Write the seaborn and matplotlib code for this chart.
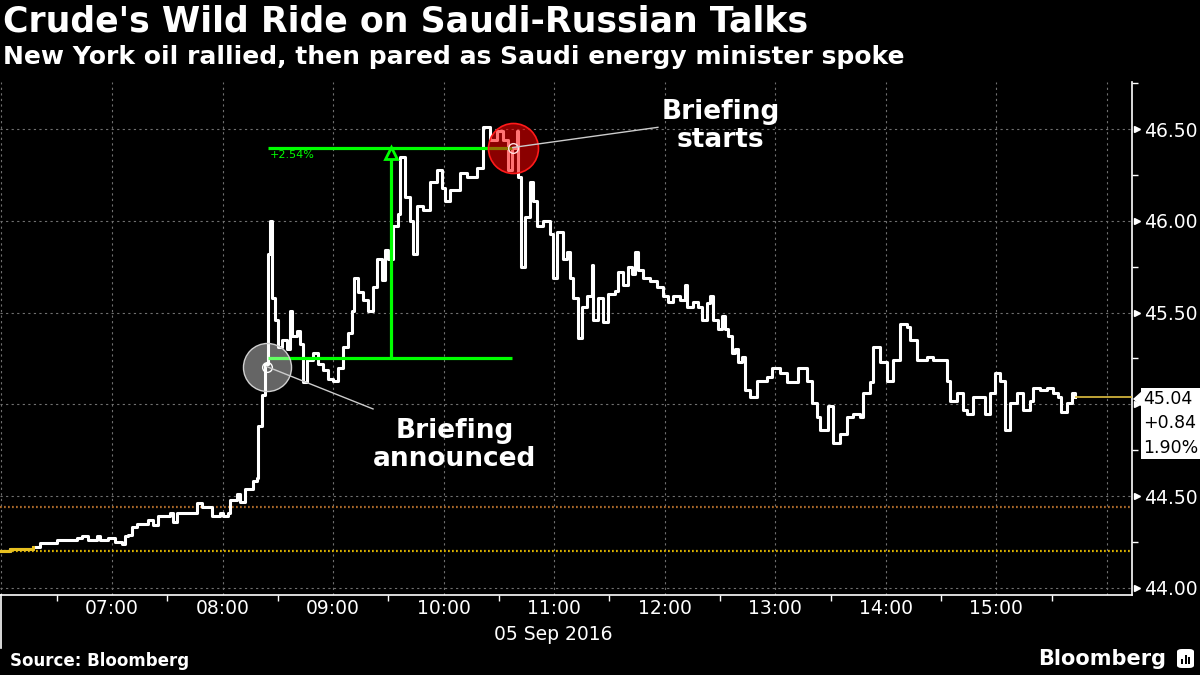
import numpy as np
import pandas as pd
import seaborn as sns
import matplotlib
matplotlib.use("Agg")
import matplotlib.pyplot as plt
import matplotlib.dates as mdates
from matplotlib.patches import Polygon, FancyBboxPatch, Rectangle
from matplotlib.lines import Line2D

# WTI front-month, 05 Sep 2016, minutes after 06:00 and price
day = pd.Timestamp("2016-09-05 06:00")
mins = [0.0, 4.7, 13.9, 17.1, 20.9, 26.4, 30.2, 35.6, 41.0, 43.7,
        47.0, 51.9, 53.5, 57.9, 61.7, 65.5, 67.1, 68.7, 70.9, 73.6,
        79.6, 82.3, 85.0, 91.5, 93.1, 95.3, 106.2, 108.9, 114.3, 118.6,
        120.3, 123.0, 124.1, 127.9, 129.5, 132.2, 136.5, 138.7, 139.3, 141.4,
        143.1, 144.7, 145.8, 146.9, 148.5, 150.1, 152.3, 155.0, 156.6, 157.7,
        160.4, 162.0, 163.7, 165.8, 169.1, 171.8, 174.5, 177.2, 180.0, 182.7,
        185.4, 188.1, 190.3, 191.4, 193.5, 196.2, 199.0, 201.7, 203.8, 206.6,
        208.2, 209.8, 212.5, 215.2, 216.3, 219.0, 221.7, 223.4, 225.5, 228.8,
        232.6, 236.4, 239.1, 240.7, 243.5, 248.9, 252.7, 258.1, 261.4, 265.2,
        269.0, 272.2, 275.0, 277.1, 279.8, 280.4, 282.0, 284.2, 286.9, 288.6,
        290.7, 294.0, 297.7, 299.4, 301.5, 304.8, 307.0, 308.6, 310.2, 312.9,
        315.1, 317.8, 320.5, 321.1, 323.8, 326.5, 329.2, 333.0, 334.6, 337.4,
        340.1, 342.2, 343.9, 345.5, 348.2, 352.0, 355.8, 359.0, 361.8, 364.5,
        368.3, 371.0, 372.1, 375.3, 378.1, 380.2, 382.9, 384.6, 386.2, 388.9,
        391.1, 392.7, 394.4, 396.6, 398.2, 399.8, 402.0, 403.6, 406.3, 410.1,
        415.5, 418.2, 422.6, 426.4, 432.3, 437.3, 440.0, 442.6, 444.3, 448.6,
        451.3, 455.1, 458.9, 462.2, 466.0, 467.6, 471.4, 473.0, 476.8, 480.6,
        483.9, 487.7, 491.5, 493.1, 496.9, 502.3, 505.6, 509.4, 513.2, 514.8,
        518.6, 521.9, 524.1, 527.3, 532.8, 533.8, 536.5, 539.2, 541.9, 544.7,
        547.4, 551.2, 554.4, 558.2, 559.9, 563.6, 567.4, 570.7, 573.4, 575.0,
        578.3, 581.0, 582.6]
price = [44.20, 44.21, 44.21, 44.22, 44.245, 44.245, 44.26, 44.26, 44.27, 44.28,
         44.26, 44.28, 44.26, 44.27, 44.25, 44.24, 44.28, 44.29, 44.33, 44.35,
         44.37, 44.34, 44.39, 44.41, 44.36, 44.41, 44.46, 44.44, 44.39, 44.41,
         44.39, 44.41, 44.48, 44.51, 44.47, 44.54, 44.58, 44.60, 44.88, 45.05,
         45.22, 45.82, 46.00, 45.58, 45.46, 45.31, 45.35, 45.30, 45.51, 45.37,
         45.40, 45.33, 45.12, 45.24, 45.28, 45.22, 45.19, 45.14, 45.13, 45.20,
         45.31, 45.39, 45.51, 45.69, 45.61, 45.57, 45.51, 45.64, 45.79, 45.68,
         45.84, 45.79, 45.97, 46.04, 46.35, 46.13, 46.00, 45.82, 46.08, 46.06,
         46.21, 46.28, 46.18, 46.11, 46.17, 46.26, 46.24, 46.29, 46.51, 46.44,
         46.49, 46.44, 46.28, 46.40, 46.49, 46.24, 45.75, 46.02, 46.21, 46.11,
         45.97, 46.00, 45.93, 45.69, 45.94, 45.79, 45.83, 45.69, 45.58, 45.36,
         45.53, 45.59, 45.76, 45.46, 45.58, 45.45, 45.60, 45.62, 45.72, 45.65,
         45.75, 45.71, 45.83, 45.73, 45.69, 45.67, 45.64, 45.59, 45.56, 45.59,
         45.57, 45.65, 45.53, 45.56, 45.53, 45.46, 45.55, 45.59, 45.46, 45.41,
         45.48, 45.41, 45.37, 45.28, 45.30, 45.23, 45.26, 45.08, 45.04, 45.13,
         45.15, 45.20, 45.17, 45.12, 45.20, 45.13, 45.01, 44.93, 44.86, 44.99,
         44.79, 44.84, 44.93, 44.95, 44.93, 45.06, 45.12, 45.31, 45.23, 45.13,
         45.24, 45.44, 45.42, 45.35, 45.24, 45.26, 45.24, 45.24, 45.13, 45.02,
         45.06, 44.97, 44.95, 45.04, 45.04, 44.95, 45.06, 45.17, 45.13, 44.86,
         45.01, 45.06, 44.97, 45.02, 45.09, 45.08, 45.09, 45.06, 45.04, 44.96,
         45.01, 45.06, 45.04]

prev_close = 44.20
ref_level = 44.44
change = "+0.84"
change_pct = "1.90%"

# rally annotation
rally_low = 45.25
rally_high = 46.40
rally_pct = "+2.54%"
announce_min = 144.0      # ~08:24, briefing announced
announce_px = 45.206
start_min = 277.5         # ~10:37, briefing starts
start_px = 46.40

hour_ticks = list(range(6, 17))
hour_labels = ["", "07:00", "08:00", "09:00", "10:00", "11:00", "12:00",
               "13:00", "14:00", "15:00", ""]
y_ticks = [44.0, 44.5, 45.0, 45.5, 46.0, 46.5]
y_labels = ["44.00", "44.50", "", "45.50", "46.00", "46.50"]
y_minor = [44.25, 44.75, 45.25, 45.75, 46.25, 46.75]

df = pd.DataFrame({"time": day + pd.to_timedelta(mins, unit="m"), "price": price})


def t(m):
    return mdates.date2num(day + pd.Timedelta(minutes=m))


plt.rcParams["font.family"] = ["DejaVu Sans"]

fig = plt.figure(figsize=(12, 6.75), dpi=100, facecolor="black")
ax = fig.add_axes([0.0, 1 - 595 / 675, 1132 / 1200, (595 - 82) / 675])
ax.set_facecolor("black")

# price line
sns.lineplot(data=df, x="time", y="price", ax=ax, color="white", lw=2.2,
             drawstyle="steps-post", estimator=None, sort=False, zorder=4)
sns.lineplot(data=df.iloc[:4], x="time", y="price", ax=ax, color="#E8C020", lw=2.2,
             drawstyle="steps-post", estimator=None, sort=False, zorder=4)

x_right = t(613.6)
ax.set_xlim(t(-0.76), x_right)
ax.set_ylim(43.961, 46.757)

# reference levels
ax.axhline(ref_level, color="#A8682A", ls=(0, (0.8, 1.0)), lw=1.6, zorder=3)
ax.axhline(prev_close, color="#D8B000", ls=(0, (0.8, 1.0)), lw=1.6, zorder=3)
ax.hlines(price[-1], mdates.date2num(df["time"].iloc[-1]), x_right,
          color="#E0C040", lw=1.2, zorder=4)

# grid and axes
ax.grid(True, which="major", color="#707070", ls=(0, (2, 3)), lw=0.8)
ax.set_axisbelow(True)
for s in ["top", "left"]:
    ax.spines[s].set_visible(False)
for s in ["right", "bottom"]:
    ax.spines[s].set_color("white")
    ax.spines[s].set_linewidth(1.2)

ax.set_xticks([t(60 * (h - 6)) for h in hour_ticks])
ax.set_xticklabels(hour_labels)
ax.set_xticks([t(60 * (h - 6) + 30) for h in hour_ticks[:-1]], minor=True)
ax.tick_params(axis="x", which="major", length=0, pad=3, labelsize=13.5, labelcolor="white")
ax.tick_params(axis="x", which="minor", length=4, width=1, color="white")

ax.yaxis.tick_right()
ax.set_yticks(y_ticks)
ax.set_yticklabels(y_labels)
ax.set_yticks(y_minor, minor=True)
ax.tick_params(axis="y", which="major", length=0, pad=9, labelsize=13.5, labelcolor="white")
ax.tick_params(axis="y", which="minor", length=4, width=1, color="white")
ax.plot([1.004] * len(y_ticks), y_ticks, marker=">", ls="none", color="white", ms=5,
        transform=ax.get_yaxis_transform(), clip_on=False)
ax.set_xlabel("")
ax.set_ylabel("")

# rally measurement
ax.hlines([rally_low, rally_high], t(144.7), t(277.1), color="#00FF00", lw=2.3, zorder=5)
ax.vlines(t(211.5), rally_low, 46.345, color="#00FF00", lw=2.3, zorder=5)
ax.plot(t(211.5), 46.372, marker="^", ms=8.6, mfc="black", mec="#00FF00", mew=2, zorder=5)
ax.text(t(145.8), 46.385, rally_pct, color="#00FF00", fontsize=8, va="top", ha="left", zorder=5)

# event circles
ax.plot(t(announce_min), announce_px, marker="o", ms=34.6, mfc=(1, 1, 1, 0.4),
        mec="#d0d0d0", mew=1, zorder=6)
ax.plot(t(announce_min), announce_px, marker="o", ms=7, mfc="none", mec="white", mew=1, zorder=7)
ax.plot([t(announce_min), t(201.7)], [announce_px, 44.975], color="#cccccc", lw=1, zorder=7)

ax.plot(t(start_min), start_px, marker="o", ms=36, mfc=(1, 0, 0, 0.55),
        mec="#ff1a1a", mew=1.2, zorder=6)
ax.plot(t(start_min), start_px, marker="o", ms=7, mfc="none", mec="#ffe0e0", mew=1, zorder=7)
ax.plot([t(start_min), t(356.3)], [start_px, 46.51], color="#cccccc", lw=1, zorder=7)

ax.text(t(390.5), 46.518, "Briefing\nstarts", ha="center", va="center", fontsize=19,
        weight="bold", color="white", linespacing=1.1, zorder=8)
ax.text(t(246.2), 44.779, "Briefing\nannounced", ha="center", va="center", fontsize=19,
        weight="bold", color="white", linespacing=1.1, zorder=8)

# last price box
fig.text(1143 / 1200, 1 - 390 / 675, f"{price[-1]:.2f}\n{change}\n{change_pct}",
         ha="left", va="top", fontsize=12.5, color="black", linespacing=1.45,
         bbox=dict(boxstyle="square,pad=0.12", fc="white", ec="none"), zorder=10)
fig.add_artist(Polygon([[1133 / 1200, 1 - 399 / 675], [1142 / 1200, 1 - 391 / 675],
                        [1142 / 1200, 1 - 407 / 675]], closed=True, fc="white", ec="none",
                       transform=fig.transFigure, zorder=10))

# titles and footer
fig.text(3 / 1200, 1 - 4 / 675, "Crude's Wild Ride on Saudi-Russian Talks", ha="left", va="top",
         fontsize=25, weight="bold", color="white")
fig.text(3 / 1200, 1 - 45 / 675, "New York oil rallied, then pared as Saudi energy minister spoke",
         ha="left", va="top", fontsize=18, weight="bold", color="white")
fig.text(553 / 1200, 1 - 635 / 675, "05 Sep 2016", ha="center", va="center",
         fontsize=13.5, color="white")
fig.text(10 / 1200, 1 - 661 / 675, "Source: Bloomberg", ha="left", va="center",
         fontsize=12, weight="bold", color="white")
fig.text(1166 / 1200, 1 - 659 / 675, "Bloomberg", ha="right", va="center",
         fontsize=15, weight="bold", color="white")
fig.add_artist(FancyBboxPatch((1177 / 1200, 1 - 668 / 675), 17 / 1200, 19 / 675,
                              boxstyle="round,pad=0,rounding_size=0.004", fc="white",
                              ec="none", transform=fig.transFigure))
for bx, bh in [(1181, 5), (1184.5, 9), (1188, 7)]:
    fig.add_artist(Rectangle((bx / 1200, 1 - 664 / 675), 2 / 1200, bh / 675, fc="black",
                             ec="none", transform=fig.transFigure))
fig.add_artist(Line2D([0.0008, 0.0008], [1 - 595 / 675, 1 - 648 / 675], color="white",
                      lw=1.2, transform=fig.transFigure))

fig.savefig("out.png", dpi=100, facecolor="black")
